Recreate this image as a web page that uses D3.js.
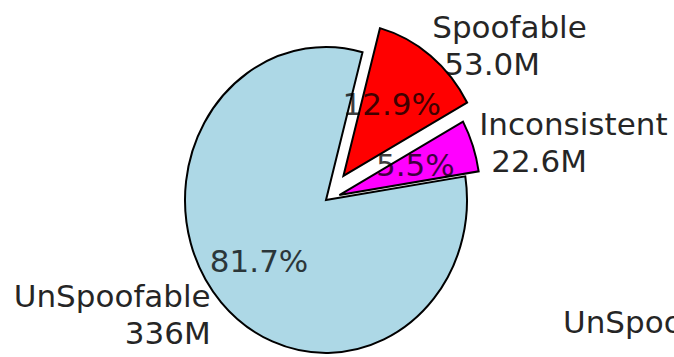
<!DOCTYPE html>
<html>
<head>
<meta charset="utf-8">
<script src="https://cdn.jsdelivr.net/npm/d3@7"></script>
<style>
  body { margin: 0; background: #fff; }
  svg { display: block; }
  text { font-family: "DejaVu Sans", sans-serif; font-size: 31px; fill: #000; }
</style>
</head>
<body>
<div id="chart"></div>
<script>
const categories = ["UnSpoofable", "Inconsistent", "Spoofable"];
const values = [336.4, 22.6, 53.0];
const valueLabels = ["336M", "22.6M", "53.0M"];
const pctLabels = ["81.7%", "5.5%", "12.9%"];
const explode = [0, 0.1, 0.2];
const colors = ["#add8e6", "#ff00ff", "#ff0000"];
// label of the neighbouring pie, cut off by the right edge
const neighbourLabel = "UnSpoofable";

const width = 674, height = 357;
const cx = 326, cy = 200, rx = 141, ry = 153;

const svg = d3.select("#chart")
    .append("svg")
    .attr("width", width)
    .attr("height", height);

// data coords [-1, 1] like matplotlib's pie axes (not equal aspect)
const x = d3.scaleLinear().domain([-1, 1]).range([cx - rx, cx + rx]);
const y = d3.scaleLinear().domain([-1, 1]).range([cy + ry, cy - ry]);

// matplotlib startangle 75 deg, counterclockwise -> d3 angles
const start = (90 - 75) * Math.PI / 180;
const pie = d3.pie().sort(null).startAngle(start).endAngle(start - 2 * Math.PI);
const arcs = pie(values);
const arc = d3.arc().innerRadius(0).outerRadius(1);

const slices = arcs.map((a, i) => {
    const mid = (a.startAngle + a.endAngle) / 2;
    const ox = explode[i] * Math.sin(mid);
    const oy = explode[i] * Math.cos(mid);
    return { a, i, mid, ox, oy };
});

svg.selectAll("path.wedge")
    .data(slices)
    .enter()
    .append("path")
        .attr("class", "wedge")
        .attr("d", d => arc(d.a))
        .attr("transform", d => `translate(${x(d.ox)},${y(d.oy)}) scale(${rx},${ry})`)
        .attr("fill", d => colors[d.i])
        .attr("stroke", "#000")
        .attr("stroke-width", 2)
        .attr("vector-effect", "non-scaling-stroke");

// percentage labels at 0.6 radius
svg.selectAll("text.pct")
    .data(slices)
    .enter()
    .append("text")
        .attr("class", "pct")
        .attr("x", d => x(d.ox + 0.6 * Math.sin(d.mid)) - 4)
        .attr("y", d => y(d.oy + 0.6 * Math.cos(d.mid)))
        .attr("dy", "0.35em")
        .attr("text-anchor", "middle")
        .style("opacity", 0.75)
        .text(d => pctLabels[d.i]);

// category labels at 1.1 radius, two lines
const labels = svg.selectAll("text.lbl")
    .data(slices)
    .enter()
    .append("text")
        .attr("class", "lbl")
        .attr("text-anchor", d => Math.sin(d.mid) > 0 ? "start" : "end")
        .style("opacity", 0.85);

labels.append("tspan")
    .attr("x", d => x(d.ox + 1.1 * Math.sin(d.mid)) + (Math.sin(d.mid) > 0 ? -7 : 0))
    .attr("y", d => y(d.oy + 1.1 * Math.cos(d.mid)) - 6)
    .text(d => categories[d.i]);

labels.append("tspan")
    .attr("x", d => x(d.ox + 1.1 * Math.sin(d.mid)) + (Math.sin(d.mid) > 0 ? 5 : 0))
    .attr("y", d => y(d.oy + 1.1 * Math.cos(d.mid)) + 31)
    .text(d => valueLabels[d.i]);

svg.append("text")
    .attr("x", 563)
    .attr("y", 333)
    .style("opacity", 0.85)
    .text(neighbourLabel);
</script>
</body>
</html>
